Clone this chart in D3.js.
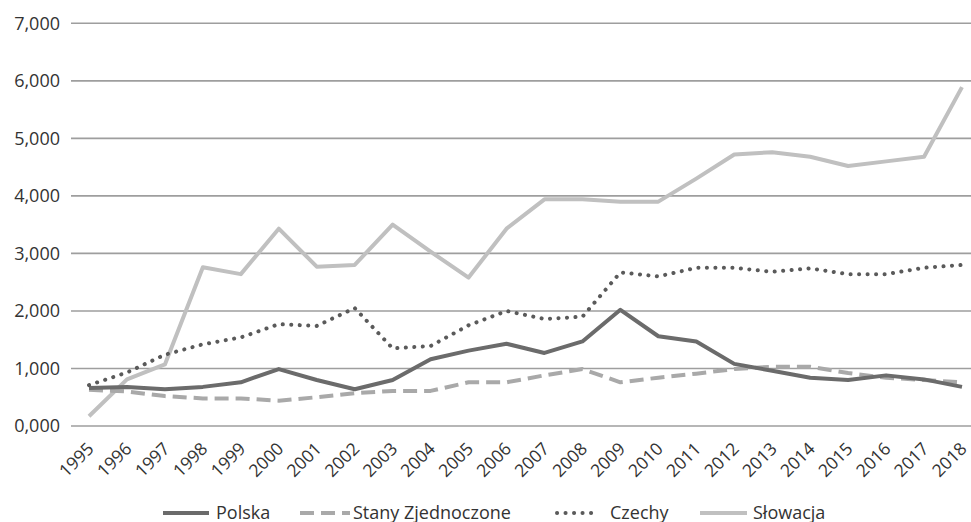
<!DOCTYPE html>
<html><head><meta charset="utf-8">
<script src="https://cdn.jsdelivr.net/npm/d3@7"></script>
<style>body{margin:0;background:#fff}svg{display:block}text{font-family:"Open Sans",sans-serif}</style>
</head><body>
<svg id="c" width="971" height="522"></svg>
<script>
const years = ["1995","1996","1997","1998","1999","2000","2001","2002","2003","2004","2005","2006","2007","2008","2009","2010","2011","2012","2013","2014","2015","2016","2017","2018"];
const polska = [0.66,0.68,0.64,0.68,0.76,0.99,0.80,0.64,0.80,1.16,1.31,1.43,1.27,1.47,2.02,1.56,1.47,1.08,0.96,0.84,0.80,0.88,0.81,0.68];
const stany = [0.63,0.60,0.52,0.48,0.48,0.44,0.50,0.57,0.61,0.61,0.76,0.76,0.88,0.99,0.76,0.84,0.91,0.99,1.03,1.03,0.92,0.84,0.80,0.76];
const czechy = [0.71,0.93,1.24,1.42,1.54,1.77,1.74,2.05,1.35,1.39,1.75,2.00,1.86,1.90,2.67,2.60,2.75,2.75,2.68,2.74,2.64,2.64,2.75,2.80];
const slowacja = [0.17,0.81,1.07,2.76,2.64,3.43,2.77,2.80,3.50,3.03,2.58,3.43,3.94,3.94,3.90,3.90,4.30,4.72,4.76,4.68,4.52,4.60,4.68,5.89];
const yTicks = [0,1,2,3,4,5,6,7];
const seriesNames = ["Polska","Stany Zjednoczone","Czechy","Słowacja"];

const series = [
  {name: seriesNames[0], values: polska, color: "#6b6b6b", dash: null, cap: "butt"},
  {name: seriesNames[1], values: stany, color: "#a9a9a9", dash: "14 7", cap: "butt"},
  {name: seriesNames[2], values: czechy, color: "#5a5a5a", dash: "0.1 8.4", cap: "round"},
  {name: seriesNames[3], values: slowacja, color: "#c0c0c0", dash: null, cap: "butt"}
];

const svg = d3.select("#c");
const x = d3.scalePoint().domain(years).range([89, 962]);
const y = d3.scaleLinear().domain([0, 7]).range([426, 23.3]);
const fmt = v => d3.format(".3f")(v).replace(".", ",");

// gridlines
svg.append("g").selectAll("line").data(yTicks).join("line")
  .attr("x1", 71).attr("x2", 971)
  .attr("y1", d => y(d)).attr("y2", d => y(d))
  .attr("stroke", "#9e9e9e").attr("stroke-width", 1.6);

// y axis labels
const yAxis = svg.append("g").attr("transform", "translate(60,0)")
  .call(d3.axisLeft(y).tickValues(yTicks).tickFormat(fmt).tickSize(0).tickPadding(0));
yAxis.select(".domain").remove();
yAxis.selectAll("text").attr("font-size", 18).attr("fill", "#333")
  .attr("font-family", "Open Sans");

// x axis labels
const xAxis = svg.append("g").attr("transform", "translate(0,426)")
  .call(d3.axisBottom(x).tickSize(0).tickPadding(0));
xAxis.select(".domain").remove();
xAxis.selectAll("text")
  .attr("font-size", 17.5).attr("fill", "#333").attr("font-family", "Open Sans")
  .attr("text-anchor", "end")
  .attr("dy", null).attr("y", 0)
  .attr("transform", "translate(2,20.5) rotate(-45)")
  .attr("dominant-baseline", "middle");

// lines
const line = d3.line().x((d, i) => x(years[i])).y(d => y(d));
const drawOrder = [3, 1, 0, 2];
drawOrder.forEach(k => {
  const s = series[k];
  svg.append("path").datum(s.values)
    .attr("d", line).attr("fill", "none")
    .attr("stroke", s.color).attr("stroke-width", 4)
    .attr("stroke-linejoin", "round")
    .attr("stroke-linecap", s.cap)
    .attr("stroke-dasharray", s.dash);
});

// legend
const legendX = [163, 300, 557, 700];
const legendW = [46, 50, 40, 47];
const ly = 513;
const lg = svg.append("g");
series.forEach((s, i) => {
  const lx = legendX[i];
  lg.append("line").attr("x1", lx).attr("x2", lx + legendW[i]).attr("y1", ly).attr("y2", ly)
    .attr("stroke", s.color).attr("stroke-width", 4)
    .attr("stroke-linecap", s.cap).attr("stroke-dasharray", s.dash);
  lg.append("text").attr("x", lx + 53).attr("y", 518.5)
    .attr("font-size", 18).attr("fill", "#333").text(s.name);
});
</script>
</body></html>
